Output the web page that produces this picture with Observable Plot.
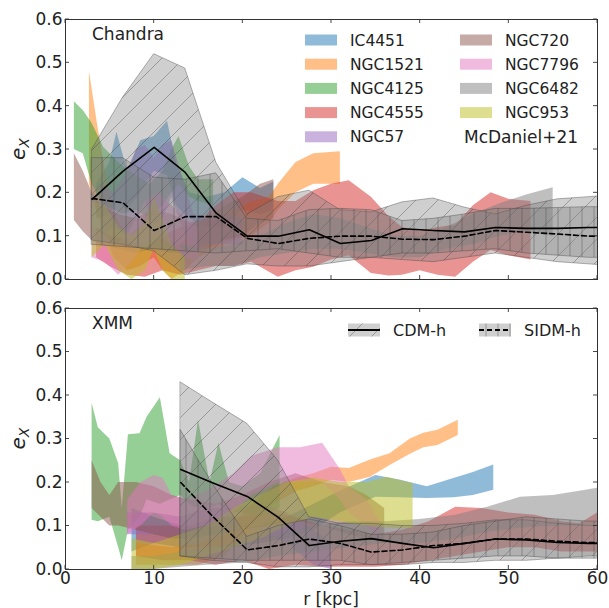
<!DOCTYPE html>
<html><head><meta charset="utf-8">
<script src="https://cdn.jsdelivr.net/npm/d3@7"></script>
<script src="https://cdn.jsdelivr.net/npm/@observablehq/plot@0.6"></script>
<style>body{margin:0;background:#fff} svg{display:block}</style>
</head><body>
<svg width="0" height="0" style="position:absolute">
  <defs>
    <pattern id="hatchSlash" patternUnits="userSpaceOnUse" width="22" height="22">
      <path d="M0,22 L22,0 M-1,1 L1,-1 M21,23 L23,21" stroke="#333" stroke-opacity="0.5" stroke-width="0.7" fill="none"/>
    </pattern>
    <pattern id="hatchVert" patternUnits="userSpaceOnUse" width="12" height="12">
      <path d="M6,0 V12" stroke="#333" stroke-opacity="0.5" stroke-width="0.7" fill="none"/>
    </pattern>
  </defs>
</svg>
<div id="chart"></div>
<script>
// ---------- tick values ----------
const xTicks = [0, 10, 20, 30, 40, 50, 60];
const yTicks = [0, 0.1, 0.2, 0.3, 0.4, 0.5, 0.6];

// ---------- galaxies ----------
const galaxyNames = ["IC4451","NGC1521","NGC4125","NGC4555","NGC57","NGC720","NGC7796","NGC6482","NGC953"];
const galaxyColors = ["#1f77b4","#ff7f0e","#2ca02c","#d62728","#9467bd","#8c564b","#e377c2","#7f7f7f","#bcbd22"];

// Chandra bands: [r, lower, upper]
const chIC4451 = [[3.5,0.14,0.22],[5,0.15,0.27],[5.8,0.18,0.34],[7,0.16,0.25],[8.5,0.2,0.32],[10,0.25,0.33],[11.5,0.24,0.365],[12.5,0.17,0.27],[14,0.14,0.2],[16,0.12,0.19],[18,0.12,0.2],[20,0.16,0.235],[22,0.15,0.21],[23.5,0.16,0.225]];
const chNGC1521 = [[2.7,0.22,0.48],[3.6,0.15,0.36],[4.6,0.1,0.24],[5.5,0.05,0.15],[7,0.02,0.1],[8.5,0.03,0.12],[10,0.05,0.19],[11,0.02,0.12],[12,0.0,0.07],[13.5,0.02,0.09],[15,0.05,0.13],[17,0.07,0.14],[19,0.09,0.16],[21,0.1,0.18],[23,0.13,0.19],[24,0.16,0.22],[26,0.2,0.27],[28,0.22,0.29],[31,0.22,0.295]];
const chNGC4125 = [[1,0.3,0.41],[2,0.29,0.39],[3,0.22,0.36],[4.3,0.17,0.305],[5.5,0.16,0.28],[6.5,0.15,0.26],[8,0.16,0.24],[9.5,0.14,0.22],[11,0.17,0.25],[12,0.2,0.3],[12.8,0.22,0.33],[14,0.19,0.26],[15,0.18,0.23],[16.7,0.17,0.23]];
const chNGC4555 = [[3.5,0.05,0.12],[5,0.03,0.1],[7,0.01,0.09],[9,0.005,0.07],[11,0.02,0.1],[13,0.01,0.12],[15,0.02,0.13],[17,0.03,0.17],[19,0.03,0.2],[21,0.04,0.2],[24,0.005,0.18],[26,0.02,0.18],[28,0.028,0.205],[30,0.045,0.22],[32,0.055,0.228],[34.5,0.014,0.19],[36.5,0.008,0.145],[38,0.01,0.12],[40,0.02,0.11],[42,0.01,0.12],[44,0.005,0.125],[46,0.04,0.17],[48,0.067,0.2],[50,0.055,0.185],[52.5,0.045,0.18]];
const chNGC57 = [[4,0.1,0.22],[5.5,0.12,0.2],[7,0.1,0.25],[8,0.14,0.3],[9,0.18,0.31],[10,0.12,0.28],[11,0.14,0.31],[12,0.19,0.32],[13,0.13,0.25],[14.5,0.07,0.15],[16,0.08,0.14],[18,0.08,0.15],[20,0.08,0.14]];
const chNGC720 = [[1,0.136,0.29],[2,0.11,0.25],[3,0.09,0.2],[4,0.08,0.17],[6,0.07,0.15],[8,0.06,0.14],[10,0.07,0.16],[12,0.06,0.15],[14,0.06,0.13],[16,0.07,0.14],[18,0.09,0.17],[20,0.1,0.19],[22,0.13,0.22],[23.5,0.14,0.23]];
const chNGC7796 = [[3,0.05,0.12],[4.5,0.04,0.1],[6,0.01,0.08],[7.5,0.04,0.13],[9,0.08,0.18],[10.5,0.1,0.2],[12,0.08,0.17],[13.5,0.05,0.14],[15,0.04,0.12]];
const chNGC6482 = [[13,0.02,0.08],[16,0.03,0.07],[19,0.03,0.08],[22,0.05,0.1],[25,0.06,0.13],[28,0.07,0.15],[31,0.07,0.14],[34,0.06,0.12],[37,0.05,0.1],[40,0.05,0.1],[43,0.07,0.12],[46,0.08,0.15],[49,0.1,0.175],[52,0.11,0.195],[55,0.1,0.212]];
const chNGC953 = [[3,0.05,0.18],[4.5,0.08,0.17],[6,0.02,0.12],[7.5,0.0,0.1],[9,0.02,0.13],[10,0.07,0.19],[11,0.02,0.14],[12,0.0,0.08],[13.5,0.0,0.05]];

// XMM bands: [r, lower, upper]
const xmIC4451 = [[7.5,0.04,0.14],[10,0.06,0.12],[13,0.05,0.1],[16,0.05,0.1],[19,0.05,0.09],[22,0.06,0.1],[25,0.07,0.12],[28,0.09,0.15],[31,0.13,0.18],[35,0.166,0.216],[37.8,0.165,0.205],[40.8,0.163,0.19],[43.8,0.165,0.209],[46,0.17,0.223],[48.3,0.182,0.24]];
const xmNGC1521 = [[8,0.01,0.06],[12,0.01,0.05],[15,0.01,0.06],[18,0.03,0.08],[21,0.1,0.15],[23.5,0.15,0.19],[26.2,0.18,0.211],[28,0.19,0.22],[30,0.205,0.235],[32,0.2,0.232],[34.4,0.212,0.252],[36.6,0.239,0.266],[38.9,0.265,0.3],[40.4,0.28,0.313],[42,0.285,0.32],[44.3,0.308,0.343]];
const xmNGC4125 = [[3,0.113,0.382],[3.7,0.11,0.326],[5,0.12,0.3],[6,0.05,0.243],[6.4,0.02,0.14],[7.1,0.09,0.31],[8.4,0.12,0.312],[9.2,0.16,0.35],[10.7,0.15,0.395],[11.8,0.16,0.266],[13,0.17,0.25],[14,0.15,0.2],[15,0.14,0.343],[16.3,0.14,0.2],[17.3,0.15,0.29],[18.5,0.13,0.2],[20,0.13,0.19],[22,0.12,0.22],[24.2,0.14,0.308]];
const xmNGC4555 = [[8,0.03,0.1],[11,0.02,0.1],[14,0.02,0.1],[17,0.01,0.12],[20,0.02,0.12],[23,0.0,0.13],[26,0.01,0.12],[29,0.005,0.1],[32,0.005,0.09],[35,0.005,0.08],[38,0.01,0.09],[41,0.02,0.11],[44,0.03,0.143],[47,0.04,0.14],[50,0.05,0.13],[53,0.05,0.125],[56,0.04,0.11],[58,0.04,0.105],[60,0.04,0.13]];
const xmNGC57 = [[7,0.08,0.13],[10,0.08,0.13],[13,0.07,0.12],[16,0.08,0.14],[19,0.09,0.14],[22,0.09,0.15],[25,0.06,0.13],[28,0.01,0.09],[30,0.0,0.06]];
const xmNGC720 = [[3,0.14,0.25],[4,0.12,0.2],[5,0.1,0.17],[6,0.1,0.2],[8,0.09,0.2],[10,0.08,0.19],[12,0.07,0.17],[14,0.07,0.16],[17,0.08,0.15],[20,0.09,0.17],[23,0.1,0.2],[26,0.11,0.22],[29,0.1,0.2],[32,0.08,0.19],[34,0.07,0.17],[36,0.06,0.14]];
const xmNGC7796 = [[7,0.08,0.16],[8.5,0.1,0.2],[10,0.13,0.216],[11,0.12,0.21],[12,0.1,0.17],[13.5,0.09,0.16],[16,0.1,0.18],[19,0.13,0.22],[21,0.17,0.26],[24,0.2,0.28],[26.5,0.2,0.28],[29,0.2,0.29],[31,0.16,0.23],[32,0.13,0.19],[34,0.1,0.16],[35.5,0.06,0.11]];
const xmNGC6482 = [[7.5,0.0,0.03],[10,0.0,0.03],[13,0.005,0.04],[16,0.01,0.05],[20,0.015,0.06],[24,0.03,0.08],[28,0.04,0.1],[32,0.05,0.11],[36,0.06,0.11],[40,0.06,0.115],[44,0.07,0.125],[47.6,0.085,0.143],[51.3,0.095,0.166],[55,0.1,0.17],[58,0.1,0.18],[61,0.1,0.19]];
const xmNGC953 = [[7.5,0.0,0.07],[10,0.0,0.06],[13,0.01,0.08],[16,0.03,0.1],[19,0.05,0.14],[22,0.07,0.17],[25,0.1,0.2],[28,0.12,0.21],[31,0.11,0.2],[34,0.1,0.2],[36.3,0.095,0.212],[39.2,0.094,0.197]];

// ---------- simulations ----------
const chSimR = [3, 6.5, 10, 13.5, 17, 20.5, 24, 27.5, 31, 34.5, 38, 41.5, 45, 48.5, 52, 55.5, 59, 62.5];
const chCdmLine = [0.185, 0.25, 0.305, 0.247, 0.153, 0.10, 0.10, 0.115, 0.083, 0.09, 0.117, 0.113, 0.11, 0.12, 0.118, 0.118, 0.12, 0.12];
const chCdmLo = [0.09, 0.08, 0.065, 0.01, 0.02, 0.035, 0.03, 0.03, 0.04, 0.05, 0.045, 0.04, 0.05, 0.06, 0.05, 0.04, 0.035, 0.03];
const chCdmHi = [0.30, 0.42, 0.52, 0.487, 0.27, 0.15, 0.19, 0.205, 0.16, 0.155, 0.178, 0.187, 0.166, 0.15, 0.17, 0.185, 0.19, 0.195];
const chSidmLine = [0.187, 0.177, 0.113, 0.145, 0.145, 0.095, 0.083, 0.095, 0.1, 0.1, 0.093, 0.092, 0.1, 0.113, 0.109, 0.105, 0.1, 0.1];
const chSidmLo = [0.08, 0.075, 0.07, 0.065, 0.06, 0.065, 0.07, 0.06, 0.05, 0.05, 0.06, 0.06, 0.065, 0.07, 0.06, 0.055, 0.05, 0.05];
const chSidmHi = [0.28, 0.28, 0.235, 0.23, 0.245, 0.14, 0.135, 0.16, 0.163, 0.16, 0.135, 0.14, 0.15, 0.163, 0.163, 0.165, 0.167, 0.167];

const xmSimR = [13, 16.5, 20.5, 24, 27.5, 31, 34.5, 38, 41.5, 45, 48.5, 52, 55.5, 59, 62.5];
const xmCdmLine = [0.23, 0.2, 0.168, 0.12, 0.055, 0.065, 0.071, 0.06, 0.05, 0.06, 0.07, 0.068, 0.062, 0.06, 0.06];
const xmCdmLo = [0.03, 0.02, 0.015, 0.005, 0.005, 0.01, 0.01, 0.01, 0.015, 0.015, 0.02, 0.02, 0.025, 0.03, 0.03];
const xmCdmHi = [0.43, 0.385, 0.335, 0.25, 0.12, 0.105, 0.105, 0.1, 0.1, 0.105, 0.113, 0.113, 0.105, 0.1, 0.1];
const xmSidmLine = [0.2, 0.124, 0.045, 0.055, 0.07, 0.06, 0.04, 0.045, 0.055, 0.06, 0.07, 0.07, 0.065, 0.062, 0.062];
const xmSidmLo = [0.03, 0.025, 0.02, 0.02, 0.02, 0.02, 0.01, 0.015, 0.02, 0.025, 0.03, 0.03, 0.025, 0.025, 0.025];
const xmSidmHi = [0.32, 0.2, 0.075, 0.1, 0.115, 0.1, 0.08, 0.08, 0.085, 0.1, 0.11, 0.12, 0.115, 0.11, 0.11];

const chandraBands = [chIC4451, chNGC1521, chNGC4125, chNGC4555, chNGC57, chNGC720, chNGC7796, chNGC6482, chNGC953];
const xmmBands = [xmIC4451, xmNGC1521, xmNGC4125, xmNGC4555, xmNGC57, xmNGC720, xmNGC7796, xmNGC6482, xmNGC953];

const TXT = "#222";
const FONT = "DejaVu Sans";

function table(r, lo, hi, m) { return r.map((v, i) => ({r: v, lo: lo[i], hi: hi[i], m: m[i]})); }

function bandMarks(bands) {
  return bands.map((b, i) => Plot.areaY(b, {x: d => d[0], y1: d => d[1], y2: d => d[2], fill: galaxyColors[i], fillOpacity: 0.5, clip: true}));
}

function simMarks(cdm, sidm) {
  return [
    Plot.areaY(cdm, {x: "r", y1: "lo", y2: "hi", fill: "#808080", fillOpacity: 0.38, clip: true}),
    Plot.areaY(cdm, {x: "r", y1: "lo", y2: "hi", fill: "url(#hatchSlash)", stroke: "#444", strokeOpacity: 0.5, strokeWidth: 0.8, clip: true}),
    Plot.areaY(sidm, {x: "r", y1: "lo", y2: "hi", fill: "#808080", fillOpacity: 0.38, clip: true}),
    Plot.areaY(sidm, {x: "r", y1: "lo", y2: "hi", fill: "url(#hatchVert)", stroke: "#444", strokeOpacity: 0.5, strokeWidth: 0.8, clip: true}),
    Plot.lineY(cdm, {x: "r", y: "m", stroke: "black", strokeWidth: 1.6, clip: true}),
    Plot.lineY(sidm, {x: "r", y: "m", stroke: "black", strokeWidth: 1.6, strokeDasharray: "5,3", clip: true})
  ];
}

function frameTicks(index, scales, values, dims) {
  const {x, y} = scales;
  const {width, height, marginTop, marginRight, marginBottom, marginLeft} = dims;
  const g = d3.create("svg:g").attr("stroke", "#333").attr("stroke-width", 0.9);
  const b = height - marginBottom, t = marginTop, l = marginLeft, r = width - marginRight, L = 4;
  for (const v of xTicks) {
    const p = x(v);
    g.append("line").attr("x1", p).attr("x2", p).attr("y1", b).attr("y2", b - L);
    g.append("line").attr("x1", p).attr("x2", p).attr("y1", t).attr("y2", t + L);
  }
  for (const v of yTicks) {
    const p = y(v);
    g.append("line").attr("y1", p).attr("y2", p).attr("x1", l).attr("x2", l + L);
    g.append("line").attr("y1", p).attr("y2", p).attr("x1", r).attr("x2", r - L);
  }
  return g.node();
}

function yLabel(index, scales, values, dims) {
  const cy = (dims.marginTop + dims.height - dims.marginBottom) / 2;
  const t = d3.create("svg:text")
    .attr("transform", `translate(25,${cy}) rotate(-90)`)
    .attr("text-anchor", "middle").attr("fill", TXT)
    .attr("font-family", FONT).attr("font-style", "italic").attr("font-size", 20);
  t.append("tspan").text("e");
  t.append("tspan").attr("font-size", 14).attr("dy", 4).text("X");
  return t.node();
}

function xLabel(index, scales, values, dims) {
  const cx = (dims.marginLeft + dims.width - dims.marginRight) / 2;
  return d3.create("svg:text").attr("x", cx).attr("y", dims.height - 3)
    .attr("text-anchor", "middle").attr("fill", TXT).attr("font-family", FONT).attr("font-size", 17)
    .text("r [kpc]").node();
}

function cornerLabel(txt) {
  return (index, scales, values, dims) => d3.create("svg:text")
    .attr("x", dims.marginLeft + 27).attr("y", dims.marginTop + 15).attr("dy", "0.35em")
    .attr("text-anchor", "start")
    .attr("fill", TXT).attr("font-family", FONT).attr("font-size", 17).text(txt).node();
}

function topLegend(index, scales, values, dims) {
  const g = d3.create("svg:g").attr("font-family", FONT).attr("fill", TXT).attr("text-anchor", "start");
  const colX = [dims.width - 304, dims.width - 149];
  const y0 = 40, dyRow = 24.2;
  galaxyNames.forEach((name, i) => {
    const col = i < 5 ? 0 : 1, row = i < 5 ? i : i - 5;
    const yy = y0 + row * dyRow;
    g.append("rect").attr("x", colX[col]).attr("y", yy - 5.5).attr("width", 32).attr("height", 11)
      .attr("fill", galaxyColors[i]).attr("fill-opacity", 0.5);
    g.append("text").attr("x", colX[col] + 45).attr("y", yy).attr("dy", "0.36em").attr("font-size", 15.5).text(name);
  });
  g.append("text").attr("x", colX[1] + 4).attr("y", y0 + 4 * dyRow).attr("dy", "0.36em").attr("font-size", 17).text("McDaniel+21");
  return g.node();
}

function bottomLegend(index, scales, values, dims) {
  const g = d3.create("svg:g").attr("font-family", FONT).attr("fill", TXT).attr("text-anchor", "start");
  const yy = dims.marginTop + 22;
  const items = [["CDM-h", "url(#hatchSlash)", null, dims.width - 261], ["SIDM-h", "url(#hatchVert)", "5,3", dims.width - 130]];
  for (const [label, hatch, dash, x0] of items) {
    g.append("rect").attr("x", x0).attr("y", yy - 6.5).attr("width", 32).attr("height", 13).attr("fill", "#808080").attr("fill-opacity", 0.38);
    g.append("rect").attr("x", x0).attr("y", yy - 6.5).attr("width", 32).attr("height", 13).attr("fill", hatch);
    const ln = g.append("line").attr("x1", x0).attr("x2", x0 + 32).attr("y1", yy).attr("y2", yy).attr("stroke", "black").attr("stroke-width", 2);
    if (dash) ln.attr("stroke-dasharray", dash);
    g.append("text").attr("x", x0 + 45).attr("y", yy).attr("dy", "0.36em").attr("font-size", 16).text(label);
  }
  return g.node();
}

const plotStyle = {fontFamily: FONT, fontSize: "17px", color: TXT, background: "white", overflow: "visible"};

const chandraChart = Plot.plot({
  width: 609, height: 290, marginLeft: 65, marginRight: 12, marginTop: 19, marginBottom: 11,
  style: plotStyle,
  x: {domain: [0, 60], axis: null},
  y: {domain: [0, 0.6], axis: null},
  marks: [
    ...bandMarks(chandraBands),
    ...simMarks(table(chSimR, chCdmLo, chCdmHi, chCdmLine), table(chSimR, chSidmLo, chSidmHi, chSidmLine)),
    Plot.frame({stroke: "#333", strokeWidth: 1}),
    frameTicks,
    Plot.axisY({ticks: yTicks, tickSize: 0, tickPadding: 3, tickFormat: d3.format(".1f"), fontSize: 17, label: null, anchor: "left"}),
    yLabel,
    cornerLabel("Chandra"),
    topLegend
  ]
});

const xmmChart = Plot.plot({
  width: 609, height: 318, marginLeft: 65, marginRight: 12, marginTop: 18, marginBottom: 39,
  style: plotStyle,
  x: {domain: [0, 60], axis: null},
  y: {domain: [0, 0.6], axis: null},
  marks: [
    ...bandMarks(xmmBands),
    ...simMarks(table(xmSimR, xmCdmLo, xmCdmHi, xmCdmLine), table(xmSimR, xmSidmLo, xmSidmHi, xmSidmLine)),
    Plot.frame({stroke: "#333", strokeWidth: 1}),
    frameTicks,
    Plot.axisY({ticks: yTicks, tickSize: 0, tickPadding: 3, tickFormat: d3.format(".1f"), fontSize: 17, label: null, anchor: "left"}),
    Plot.axisX({ticks: xTicks, tickSize: 0, tickPadding: 2, fontSize: 17, label: null, anchor: "bottom"}),
    yLabel,
    xLabel,
    cornerLabel("XMM"),
    bottomLegend
  ]
});

document.getElementById("chart").append(chandraChart, xmmChart);
</script>
</body></html>
